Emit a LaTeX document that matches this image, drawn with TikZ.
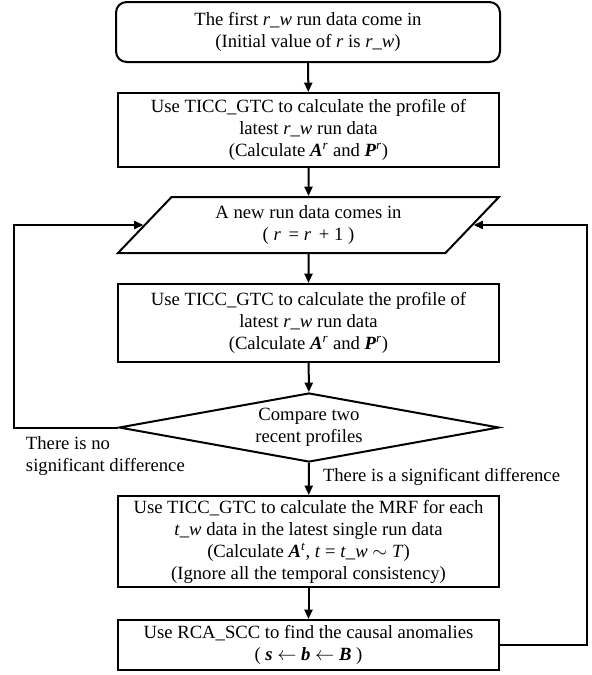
\documentclass[tikz,border=0pt]{standalone}
\usepackage{fontspec}
\setmainfont{Liberation Serif}
\usetikzlibrary{shapes.geometric,arrows.meta}

\begin{document}
\begin{tikzpicture}[x=0.75pt,y=-0.75pt,line width=1.5pt,>={Triangle[length=7pt,width=6pt]},
    every node/.style={font=\fontsize{14}{16.5}\selectfont},
    proc/.style={rectangle,draw,align=center,minimum width=285.75pt,inner sep=2pt},
    io/.style={trapezium,draw,align=center,trapezium left angle=36,trapezium right angle=144,
        trapezium stretches body,minimum width=285.75pt,minimum height=42pt,inner sep=0pt},
    test/.style={diamond,draw,align=center,aspect=5.5,minimum width=285pt,minimum height=51.75pt,inner sep=0pt},
    note/.style={anchor=west,align=left,inner sep=0pt}]
    \useasboundingbox (0,0) rectangle (592,675);

    \node[proc,rounded corners=8pt,minimum width=288pt,minimum height=45pt] at (308, 32) (a)
        {The first \textit{r}\_\textit{w} run data come in\\(Initial value of \textit{r} is \textit{r}\_\textit{w})};
    \node[proc,minimum height=55.5pt] at (308.5, 130) (b)
        {Use TICC\_GTC to calculate the profile of\\latest \textit{r}\_\textit{w} run data\\(Calculate \textbf{\textit{A}}\textsuperscript{\textit{r}} and \textbf{\textit{P}}\textsuperscript{\textit{r}})};
    \node[io] at (308.5, 225) (c)
        {A new run data comes in\\( \textit{r}\, = \textit{r}\, + 1 )};
    \node[proc,minimum height=58.5pt] at (308.5, 323) (d)
        {Use TICC\_GTC to calculate the profile of\\latest \textit{r}\_\textit{w} run data\\(Calculate \textbf{\textit{A}}\textsuperscript{\textit{r}} and \textbf{\textit{P}}\textsuperscript{\textit{r}})};
    \node[test] at (309, 427.5) (e) {Compare two\\recent profiles};
    \node[proc,minimum height=68.25pt] at (308.5, 541.5) (f)
        {Use TICC\_GTC to calculate the MRF for each\\\textit{t}\_\textit{w} data in the latest single run data\\(Calculate \textbf{\textit{A}}\textsuperscript{\textit{t}}, \textit{t} = \textit{t}\_\textit{w} $\sim$ \textit{T})\\(Ignore all the temporal consistency)};
    \node[proc,minimum height=37.5pt] at (308.5, 645) (g)
        {Use RCA\_SCC to find the causal anomalies\\( \textbf{\textit{s}} $\leftarrow$ \textbf{\textit{b}} $\leftarrow$ \textbf{\textit{B}} )};

    \node[note] at (25, 456) (no) {There is no\\significant difference};
    \node[note] at (322, 477) (yes) {There is a significant difference};

    \coordinate (lft) at (14, 427.5);
    \coordinate (rgt) at (587, 645);

    \path[->]
        (a) edge (b)
        (b) edge (c)
        (c) edge (d)
        (d) edge (e)
        (e) edge (f)
        (f) edge (g)
        ;
    \draw[->] (e.west) -- (lft) |- (c.left side);
    \draw[->] (g.east) -- (rgt) |- (c.right side);
\end{tikzpicture}
\end{document}
